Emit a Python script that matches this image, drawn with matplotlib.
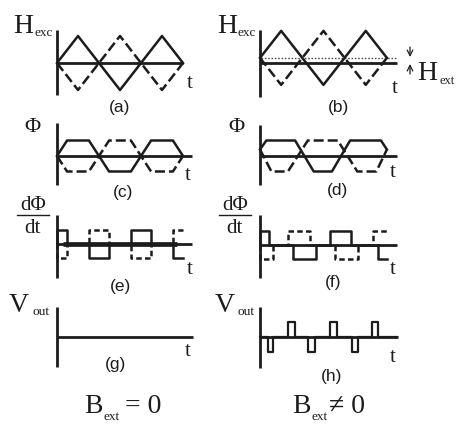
import matplotlib
matplotlib.use("Agg")
import matplotlib.pyplot as plt

# ---------------- data (time in half-periods, amplitudes normalised) -------------
t_tri = [0, 0.5, 1, 1.5, 2, 2.5, 3]
hexc_a_solid = [0, 1, 0, -1, 0, 1, 0]
hexc_a_dash = [0, -1, 0, 1, 0, -1, 0]
h_ext = 0.19
hexc_b_solid = [0.19, 1.19, 0.19, -0.81, 0.19, 1.19, 0.19]
hexc_b_dash = [0.19, -0.81, 0.19, 1.19, 0.19, -0.81, 0.19]

phi_c_t = [0, 0.24, 0.76, 1.24, 1.76, 2.24, 2.76, 3.0]
phi_c_solid = [0, 1, 1, -1, -1, 1, 1, 0]
phi_c_dash = [0, -1, -1, 1, 1, -1, -1, 0]

phi_d_solid_t = [0, 0.15, 0.83, 1.27, 1.70, 2.13, 2.86, 3.0]
phi_d_solid = [0.42, 1, 1, -1, -1, 1, 1, 0.42]
phi_d_dash_t = [0, 0.27, 0.66, 1.13, 1.84, 2.30, 2.75, 3.0]
phi_d_dash = [0.42, -1, -1, 1, 1, -1, -1, 0.42]

dphi_e_t = [0, 0, 0.24, 0.24, 0.76, 0.76, 1.24, 1.24, 1.76, 1.76, 2.24, 2.24, 2.76, 2.76, 3.0]
dphi_e_solid = [0, 1, 1, 0, 0, -1, -1, 0, 0, 1, 1, 0, 0, -1, -1]
dphi_e_dash = [0, -1, -1, 0, 0, 1, 1, 0, 0, -1, -1, 0, 0, 1, 1]

dphi_f_solid_t = [0, 0, 0.22, 0.22, 0.78, 0.78, 1.32, 1.32, 1.66, 1.66, 2.16, 2.16, 2.78, 2.78, 3.0]
dphi_f_solid = [0, 1, 1, 0, 0, -1, -1, 0, 0, 1, 1, 0, 0, -1, -1]
dphi_f_dash_t = [0, 0, 0.30, 0.30, 0.66, 0.66, 1.18, 1.18, 1.78, 1.78, 2.32, 2.32, 2.66, 2.66, 3.0]
dphi_f_dash = [0, -1, -1, 0, 0, 1, 1, 0, 0, -1, -1, 0, 0, 1, 1]

vout_h_t = [0, 0.19, 0.19, 0.31, 0.31, 0.66, 0.66, 0.82, 0.82, 1.14, 1.14, 1.30, 1.30,
            1.65, 1.65, 1.81, 1.81, 2.17, 2.17, 2.31, 2.31, 2.64, 2.64, 2.79, 2.79, 3.25]
vout_h = [0, 0, -1, -1, 0, 0, 1, 1, 0, 0, -1, -1, 0, 0, 1, 1, 0, 0, -1, -1, 0, 0, 1, 1, 0, 0]

# ---------------- layout ----------------
W, H = 461, 428
fig = plt.figure(figsize=(W / 100, H / 100), dpi=100)
fig.patch.set_facecolor("white")

INK = "#1c1c1c"
LW_AX = 2.0
LW = 1.8
SERIF = ["Liberation Serif", "DejaVu Serif"]
SANS = ["Liberation Sans", "DejaVu Sans"]

# pixel-coordinate overlay for labels
ax0 = fig.add_axes([0, 0, 1, 1])
ax0.set_xlim(0, W)
ax0.set_ylim(H, 0)
ax0.axis("off")


def panel(x0, y0, sx, sy, vtop, vbot, tend):
    ax = fig.add_axes([0, 0, 1, 1])
    ax.set_xlim(-x0 / sx, (W - x0) / sx)
    ax.set_ylim(-(H - y0) / sy, y0 / sy)
    ax.axis("off")
    ax.patch.set_alpha(0)
    ax.plot([0, 0], [vtop, vbot], color=INK, lw=LW_AX, solid_capstyle="butt")
    ax.plot([0, tend], [0, 0], color=INK, lw=LW_AX, solid_capstyle="butt")
    return ax


long_dash = (0, (4, 1.6))
short_dash = (0, (2.2, 1.3))

# (a)
a = panel(57, 63, 42, 27, 1.22, -1.19, 3.0)
a.plot(t_tri, hexc_a_solid, color=INK, lw=LW)
a.plot(t_tri, hexc_a_dash, color=INK, lw=LW, ls=long_dash)

# (b)
b = panel(260, 63, 42.3, 27, 1.22, -1.26, 3.24)
b.plot([0.03, 3.24], [h_ext, h_ext], color="#555555", lw=1.0, ls=(0, (1.2, 1.2)))
b.plot(t_tri, hexc_b_solid, color=INK, lw=LW)
b.plot(t_tri, hexc_b_dash, color=INK, lw=LW, ls=long_dash)

# (c)
c = panel(57, 156, 42, 15.5, 2.13, -1.87, 3.21)
c.plot(phi_c_t, phi_c_solid, color=INK, lw=LW)
c.plot(phi_c_t, phi_c_dash, color=INK, lw=LW, ls=long_dash)

# (d)
d = panel(260, 156, 42.3, 15.5, 2.0, -1.87, 3.24)
d.plot(phi_d_solid_t, phi_d_solid, color=INK, lw=LW)
d.plot(phi_d_dash_t, phi_d_dash, color=INK, lw=LW, ls=long_dash)

# (e)
e = panel(57, 244, 42, 14, 2.07, -2.43, 3.21)
e.plot([0.15, 2.85], [0, 0], color=INK, lw=3.4, solid_capstyle="butt")
e.plot(dphi_e_t, dphi_e_solid, color=INK, lw=LW)
e.plot(dphi_e_t, dphi_e_dash, color=INK, lw=LW, ls=short_dash)

# (f)
f = panel(260, 245, 42.3, 14, 2.14, -2.36, 3.24)
f.plot(dphi_f_solid_t, dphi_f_solid, color=INK, lw=LW)
f.plot(dphi_f_dash_t, dphi_f_dash, color=INK, lw=LW, ls=short_dash)

# (g)
g = panel(57, 337, 42, 15, 2.0, -2.0, 3.24)

# (h)
h = panel(260, 337, 42.3, 15, 2.0, -2.07, 3.26)
h.plot(vout_h_t, vout_h, color=INK, lw=1.6)

# ---------------- labels ----------------
def T(x, y, s, size, fam=SERIF, ha="left", va="baseline"):
    ax0.text(x, y, s, fontsize=size, family=fam, ha=ha, va=va, color=INK)

# H_exc
T(13, 33, "H", 20)
T(34, 36, "exc", 9.5)
T(217, 33, "H", 20)
T(237, 36, "exc", 9.5)
# H_ext with arrows
T(417, 80, "H", 20)
T(439, 84, "ext", 9)
ax0.annotate("", xy=(410, 57), xytext=(410, 47),
             arrowprops=dict(arrowstyle="->", color=INK, lw=0.9, shrinkA=0, shrinkB=0))
ax0.annotate("", xy=(410, 64), xytext=(410, 74),
             arrowprops=dict(arrowstyle="->", color=INK, lw=0.9, shrinkA=0, shrinkB=0))

# Phi
T(32, 127, "Φ", 16, ha="center", va="center")
T(236, 127, "Φ", 16, ha="center", va="center")

# dPhi/dt
for cx in (33, 235):
    T(cx, 210, "dΦ", 15, ha="center")
    ax0.plot([cx - 16, cx + 16], [214.5, 214.5], color=INK, lw=1.0)
    T(cx - 1, 233, "dt", 15, ha="center")

# V_out
T(9, 312, "V", 20)
T(32, 315, "out", 9.5)
T(215, 312, "V", 20)
T(237, 315, "out", 9.5)

# t labels
for (x, y) in [(190, 83), (395, 88), (188, 175), (393, 172),
               (190, 270), (393, 269), (188, 352), (393, 358)]:
    T(x, y, "t", 15, ha="center", va="center")

# panel letters
for (x, y, s) in [(120, 107, "(a)"), (338, 107, "(b)"), (123, 192, "(c)"),
                  (337, 190, "(d)"), (120, 286, "(e)"), (333, 282, "(f)"),
                  (115, 365, "(g)"), (332, 376, "(h)")]:
    T(x, y, s, 12.5, fam=SANS, ha="center", va="center")

# B_ext
T(84, 413, "B", 20)
T(103, 420, "ext", 9.5)
T(125, 413, "= 0", 20)
T(292, 413, "B", 20)
T(311, 420, "ext", 9.5)
T(329, 413, "≠ 0", 20)

fig.savefig("out.png", dpi=100, facecolor="white")
